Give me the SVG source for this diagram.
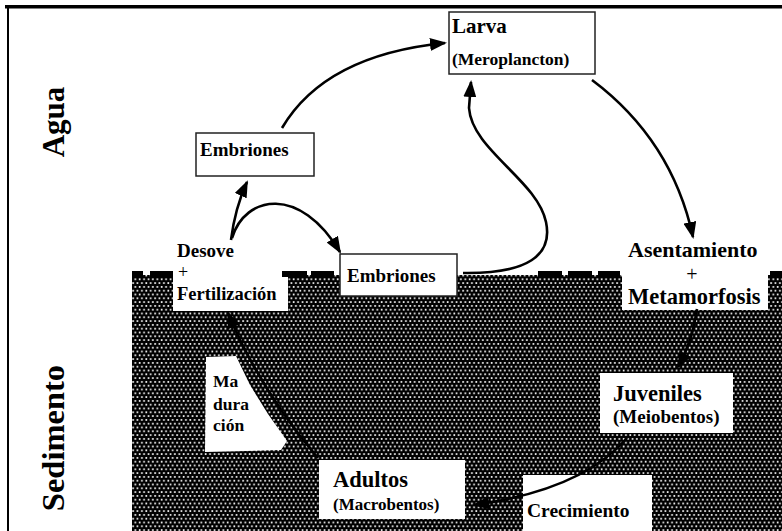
<svg xmlns="http://www.w3.org/2000/svg" width="782" height="531" viewBox="0 0 782 531">
<defs>
<pattern id="sed" width="4.4" height="7.6" patternUnits="userSpaceOnUse">
<rect width="4.4" height="7.6" fill="#000"/>
<circle cx="1.1" cy="1.9" r="1.0" fill="#fff"/>
<circle cx="3.3" cy="5.7" r="1.0" fill="#fff"/>
</pattern>
<marker id="ah" viewBox="0 0 17 13" refX="15" refY="6.5" markerWidth="17" markerHeight="13" markerUnits="userSpaceOnUse" orient="auto">
<path d="M0,0 L17,6.5 L0,13 Z" fill="#000"/>
</marker>
</defs>
<style>
.t{font-family:"Liberation Serif","Times New Roman",serif;font-weight:bold;fill:#000}
.p{font-family:"Liberation Serif","Times New Roman",serif;fill:#000}
.box{fill:#fff;stroke:#222;stroke-width:1.5}
.wb{fill:#fff;stroke:none}
.c{fill:none;stroke:#000;stroke-width:2.6}
.dash{fill:#000}
</style>
<rect width="782" height="531" fill="#fff"/>
<g id="sediment">
<rect x="132" y="275" width="650" height="256" fill="url(#sed)"/>
<rect x="173" y="265" width="115" height="46" fill="#fff"/>
<rect x="622" y="265" width="146" height="45" fill="#fff"/>
<rect class="dash" x="132" y="271" width="11" height="6"/>
<rect class="dash" x="150" y="271" width="23" height="6"/>
<rect class="dash" x="282" y="271" width="25" height="6"/>
<rect class="dash" x="311" y="271" width="23" height="6"/>
<rect class="dash" x="538" y="271" width="24" height="6"/>
<rect class="dash" x="568" y="271" width="24" height="6"/>
<rect class="dash" x="598" y="271" width="22" height="6"/>
<rect class="dash" x="770" y="271" width="12" height="6"/>
</g>
<g id="frame">
<rect x="5" y="5" width="777" height="3.5" fill="#000"/>
<rect x="7" y="5" width="2" height="526" fill="#000"/>
</g>
<g id="label-agua">
<text class="t" transform="translate(64,122) rotate(-90)" text-anchor="middle" font-size="31">Agua</text>
</g>
<g id="label-sedimento">
<text class="t" transform="translate(64,438) rotate(-90)" text-anchor="middle" font-size="32.5">Sedimento</text>
</g>
<g id="larva">
<rect class="box" x="449" y="12" width="146" height="62"/>
<text class="t" x="452" y="33" font-size="21">Larva</text>
<text class="t" x="452" y="65" font-size="17.5">(Meroplancton)</text>
</g>
<g id="embriones-agua">
<rect class="box" x="196" y="133" width="118" height="43"/>
<text class="t" x="200" y="156" font-size="19">Embriones</text>
</g>
<g id="desove">
<text class="t" x="177" y="257" font-size="19">Desove</text>
<text class="p" x="178" y="278" font-size="18">+</text>
<text class="t" x="177" y="300" font-size="18.5">Fertilización</text>
</g>
<g id="embriones-sedimento">
<rect class="box" x="340" y="254" width="117" height="42"/>
<text class="t" x="347" y="282" font-size="19">Embriones</text>
</g>
<g id="asentamiento">
<text class="t" x="628" y="257" font-size="22">Asentamiento</text>
<text class="p" x="692" y="281" font-size="20" text-anchor="middle">+</text>
<text class="t" x="628" y="304" font-size="22.5">Metamorfosis</text>
</g>
<g id="juveniles">
<rect class="wb" x="600" y="373" width="133" height="60"/>
<text class="t" x="613" y="401" font-size="22.5">Juveniles</text>
<text class="t" x="613" y="423" font-size="19">(Meiobentos)</text>
</g>
<g id="adultos">
<rect class="wb" x="319" y="460" width="146" height="59"/>
<text class="t" x="333" y="487" font-size="22.5">Adultos</text>
<text class="t" x="333" y="510" font-size="17">(Macrobentos)</text>
</g>
<g id="crecimiento">
<rect class="wb" x="523" y="475" width="129" height="56"/>
<text class="t" x="527" y="517" font-size="19.5">Crecimiento</text>
</g>
<g id="maduracion">
<polygon class="wb" points="206,357 236,356 250,385 268,414 287,441 281,450 205,452"/>
<text class="t" x="213" y="387" font-size="17.5">Ma</text>
<text class="t" x="213" y="410" font-size="17.5">dura</text>
<text class="t" x="213" y="431" font-size="17.5">ción</text>
</g>
<g id="connectors">
<path class="c" d="M282,128 Q325,55 445,43" marker-end="url(#ah)"/>
<path class="c" d="M231,240 Q235,208 247,182" marker-end="url(#ah)"/>
<path class="c" d="M232,238 C245,195 300,185 340,252" marker-end="url(#ah)"/>
<path class="c" d="M463,273 C528,274 553,255 546,222 C537,180 472,150 469,108 L471,82" marker-end="url(#ah)"/>
<path class="c" d="M592,80 Q672,140 693,237" marker-end="url(#ah)"/>
<path class="c" d="M697,309 Q693,340 678,367" marker-end="url(#ah)"/>
<path class="c" d="M627,438 Q582,490 474,505" marker-end="url(#ah)"/>
<path class="c" d="M318,458 Q260,390 228,313" marker-end="url(#ah)"/>
</g>
</svg>
